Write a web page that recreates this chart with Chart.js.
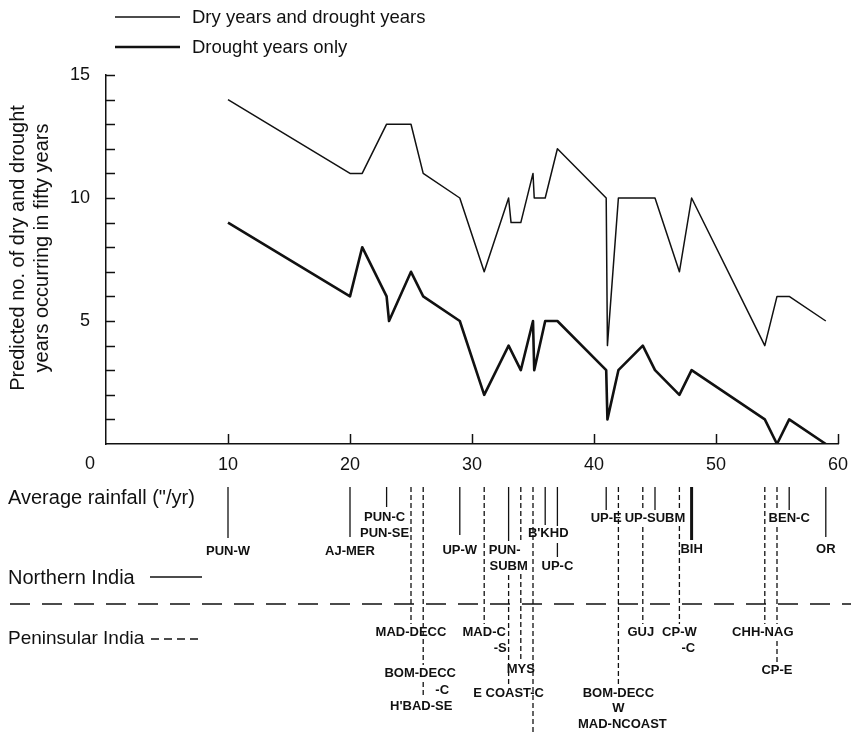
<!DOCTYPE html>
<html>
<head>
<meta charset="utf-8">
<script src="https://cdn.jsdelivr.net/npm/chart.js@4"></script>
<style>
body { margin: 0; background: #fff; }
canvas { display: block; }
</style>
</head>
<body>
<canvas id="droughtChart" width="851" height="732"></canvas>
<script>
// Dry years and drought years (thin line)
const dryRainfall = [10, 20, 21, 23, 25, 26, 29, 31, 33, 33.2, 34, 35, 35.1, 36, 37, 41, 41.1, 42, 45, 47, 48, 54, 55, 56, 59];
const dryYears = [14, 11, 11, 13, 13, 11, 10, 7, 10, 9, 9, 11, 10, 10, 12, 10, 4, 10, 10, 7, 10, 4, 6, 6, 5];

// Drought years only (thick line)
const droughtRainfall = [10, 20, 21, 23, 23.2, 25, 26, 29, 31, 33, 34, 35, 35.1, 36, 37, 41, 41.1, 42, 44, 45, 47, 48, 54, 55, 56, 59];
const droughtYears = [9, 6, 8, 6, 5, 7, 6, 5, 2, 4, 3, 5, 3, 5, 5, 3, 1, 3, 4, 3, 2, 3, 1, 0, 1, 0];

const yTickLabels = [5, 10, 15];
const xTickLabels = [0, 10, 20, 30, 40, 50, 60];

// Regions and their average rainfall
const northernRegions = [['PUN-W'], ['AJ-MER'], ['PUN-C', 'PUN-SE'], ['UP-W'], ['PUN-', 'SUBM'], ["B'KHD"], ['UP-C'], ['UP-E'], ['UP-SUBM'], ['BIH'], ['BEN-C'], ['OR']];
const northernRainfall = [10, 20, 23, 29, 33, 36, 37, 41, 45, 48, 56, 59];
const peninsularRegions = [['MAD-DECC'], ['BOM-DECC', '-C', "H'BAD-SE"], ['MAD-C', '-S'], ['E COAST-C'], ['MYS'], [], ['BOM-DECC', 'W', 'MAD-NCOAST'], ['GUJ'], ['CP-W', '-C'], ['CHH-NAG'], ['CP-E']];
const peninsularRainfall = [25, 26, 31, 33, 34, 35, 42, 44, 47, 54, 55];

// Where each marker line and its label sit below the plot (page pixels)
const northernLayout = [
    { segs: [[487, 538]], text: [[0, 551]] },
    { segs: [[487, 537]], text: [[0, 551]] },
    { segs: [[487, 507]], text: [[-2, 517], [-2, 533]] },
    { segs: [[487, 535]], text: [[0, 550]] },
    { segs: [[487, 541]], text: [[-4, 550], [0, 566]] },
    { segs: [[487, 525]], text: [[3, 533]] },
    { segs: [[487, 526], [543, 557]], text: [[0, 566]] },
    { segs: [[487, 510]], text: [[0, 518]] },
    { segs: [[487, 510]], text: [[0, 518]] },
    { segs: [[487, 540]], text: [[0, 549]], width: 3 },
    { segs: [[487, 510]], text: [[0, 518]] },
    { segs: [[487, 537]], text: [[0, 549]] }
];
const peninsularLayout = [
    { segs: [[487, 624]], text: [[0, 632]] },
    { segs: [[487, 665], [682, 696]], text: [[-3, 673], [19, 690], [-2, 706]] },
    { segs: [[487, 624]], text: [[0, 632], [16, 648]] },
    { segs: [[575, 684]], text: [[0, 693]] },
    { segs: [[487, 540], [574, 662]], text: [[0, 669]] },
    { segs: [[487, 732]], text: [] },
    { segs: [[487, 684]], text: [[0, 693], [0, 708], [4, 724]] },
    { segs: [[487, 508], [527, 624]], text: [[-2, 632]] },
    { segs: [[487, 510], [526, 624]], text: [[0, 632], [9, 648]] },
    { segs: [[487, 624]], text: [[-2, 632]] },
    { segs: [[487, 508], [527, 624], [641, 662]], text: [[0, 670]] }
];

const ink = '#111';
const FONT = '"Liberation Sans", Arial, sans-serif';

function toPoints(xs, ys) {
    return xs.map((x, i) => ({ x: x, y: ys[i] }));
}

function drawMarker(ctx, x, layout, lines, dashed) {
    ctx.save();
    ctx.strokeStyle = ink;
    ctx.lineWidth = layout.width || 1.3;
    ctx.setLineDash(dashed ? [5, 3] : []);
    layout.segs.forEach(s => {
        ctx.beginPath();
        ctx.moveTo(x, s[0]);
        ctx.lineTo(x, s[1]);
        ctx.stroke();
    });
    ctx.setLineDash([]);
    ctx.fillStyle = ink;
    ctx.font = 'bold 13px ' + FONT;
    ctx.textAlign = 'center';
    ctx.textBaseline = 'middle';
    lines.forEach((t, i) => {
        const pos = layout.text[i];
        if (pos) ctx.fillText(t, x + pos[0], pos[1]);
    });
    ctx.restore();
}

const decorations = {
    id: 'decorations',
    afterDraw(chart) {
        const ctx = chart.ctx;
        const xs = chart.scales.x;
        const ys = chart.scales.y;
        const left = chart.chartArea.left;
        const bottom = chart.chartArea.bottom;

        ctx.save();
        ctx.strokeStyle = ink;
        ctx.fillStyle = ink;
        ctx.lineWidth = 1.5;

        // inward tick marks
        ys.ticks.forEach(t => {
            if (t.value === 0) return;
            const py = Math.round(ys.getPixelForValue(t.value)) + 0.5;
            ctx.beginPath();
            ctx.moveTo(left, py);
            ctx.lineTo(left + 9, py);
            ctx.stroke();
        });
        xTickLabels.forEach(v => {
            if (v === 0) return;
            const px = Math.round(xs.getPixelForValue(v)) + 0.5;
            ctx.beginPath();
            ctx.moveTo(px, bottom);
            ctx.lineTo(px, bottom - 10);
            ctx.stroke();
        });

        // the corner "0"
        ctx.font = '18px ' + FONT;
        ctx.textAlign = 'center';
        ctx.textBaseline = 'middle';
        ctx.fillText('0', xs.getPixelForValue(0) - 16, 464);

        // legend
        ctx.lineWidth = 1.5;
        ctx.beginPath(); ctx.moveTo(115, 17); ctx.lineTo(180, 17); ctx.stroke();
        ctx.lineWidth = 2.6;
        ctx.beginPath(); ctx.moveTo(115, 47); ctx.lineTo(180, 47); ctx.stroke();
        ctx.textAlign = 'left';
        ctx.font = '18.5px ' + FONT;
        ctx.fillText(chart.data.datasets[0].label, 192, 18);
        ctx.fillText(chart.data.datasets[1].label, 192, 48);

        // y axis title
        ctx.save();
        ctx.font = '20px ' + FONT;
        ctx.textAlign = 'center';
        ctx.translate(18, 248);
        ctx.rotate(-Math.PI / 2);
        ctx.fillText('Predicted no. of dry and drought', 0, 0);
        ctx.fillText('years occurring in fifty years', 0, 24);
        ctx.restore();

        // lower panel captions
        ctx.font = '20px ' + FONT;
        ctx.textAlign = 'left';
        ctx.fillText('Average rainfall ("/yr)', 8, 498);
        ctx.fillText('Northern India', 8, 578);
        ctx.font = '19px ' + FONT;
        ctx.fillText('Peninsular India', 8, 639);
        ctx.lineWidth = 1.5;
        ctx.beginPath(); ctx.moveTo(150, 577); ctx.lineTo(202, 577); ctx.stroke();
        ctx.setLineDash([8, 5]);
        ctx.beginPath(); ctx.moveTo(151, 639); ctx.lineTo(202, 639); ctx.stroke();
        ctx.lineWidth = 1.6;
        ctx.setLineDash([20, 12]);
        ctx.beginPath(); ctx.moveTo(10, 604); ctx.lineTo(851, 604); ctx.stroke();
        ctx.setLineDash([]);
        ctx.restore();

        northernRainfall.forEach((v, i) => {
            drawMarker(ctx, xs.getPixelForValue(v), northernLayout[i], northernRegions[i], false);
        });
        peninsularRainfall.forEach((v, i) => {
            drawMarker(ctx, xs.getPixelForValue(v), peninsularLayout[i], peninsularRegions[i], true);
        });
    }
};

new Chart(document.getElementById('droughtChart'), {
    type: 'line',
    data: {
        datasets: [{
            label: 'Dry years and drought years',
            data: toPoints(dryRainfall, dryYears),
            borderColor: ink,
            borderWidth: 1.5,
            borderJoinStyle: 'round',
            pointRadius: 0,
            tension: 0
        }, {
            label: 'Drought years only',
            data: toPoints(droughtRainfall, droughtYears),
            borderColor: ink,
            borderWidth: 2.6,
            borderJoinStyle: 'round',
            pointRadius: 0,
            tension: 0
        }]
    },
    options: {
        responsive: false,
        animation: false,
        layout: { padding: { top: 75, left: 0, right: 13, bottom: 258 } },
        plugins: {
            legend: { display: false },
            tooltip: { enabled: false }
        },
        scales: {
            x: {
                type: 'linear',
                min: 0,
                max: 60,
                afterFit: s => { s.height = 30; s.paddingLeft = 0; s.paddingRight = 0; },
                grid: { display: false, drawTicks: false },
                border: { display: true, color: ink, width: 1.5 },
                ticks: {
                    stepSize: 10,
                    padding: 10,
                    color: ink,
                    font: { size: 18, family: FONT },
                    callback: v => (xTickLabels.includes(v) && v !== 0) ? v : ''
                }
            },
            y: {
                min: 0,
                max: 15,
                afterFit: s => { s.width = 106; s.paddingTop = 0; s.paddingBottom = 0; },
                grid: { display: false, drawTicks: false },
                border: { display: true, color: ink, width: 1.5 },
                ticks: {
                    stepSize: 1,
                    autoSkip: false,
                    padding: 16,
                    color: ink,
                    font: { size: 18, family: FONT },
                    callback: v => yTickLabels.includes(v) ? v : ''
                }
            }
        }
    },
    plugins: [decorations]
});
</script>
</body>
</html>
